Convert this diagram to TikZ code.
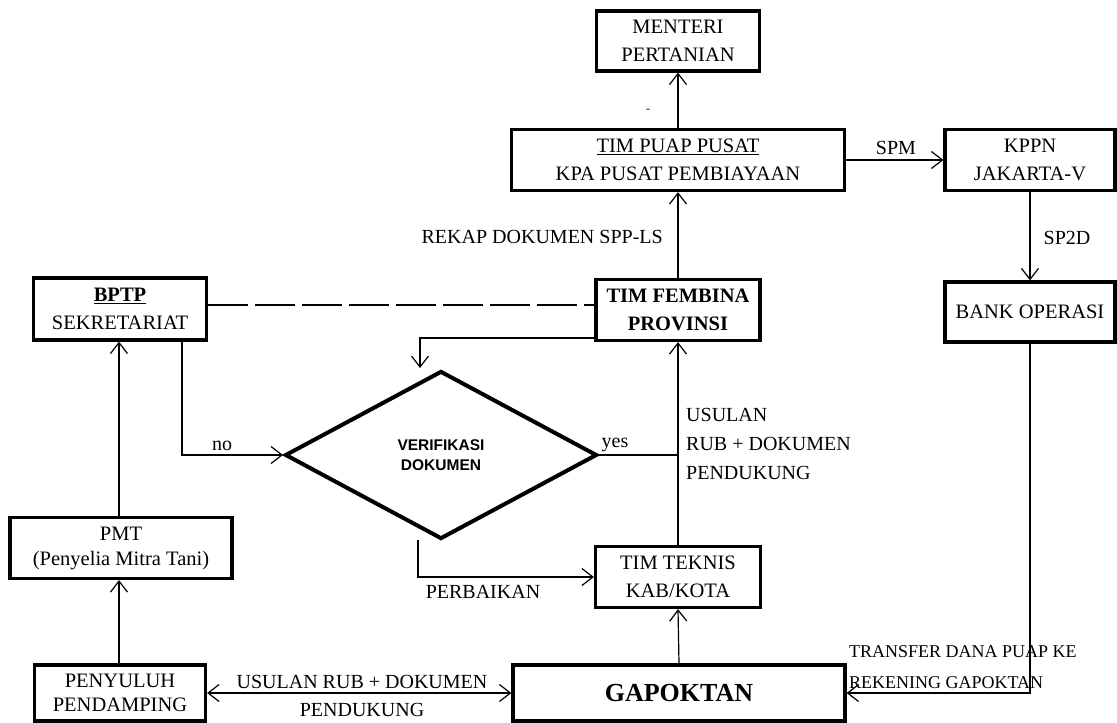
\documentclass[tikz,border=0pt]{standalone}
\usepackage{fontspec}
\setmainfont{Liberation Serif}
\newfontfamily\diafont{Liberation Sans}
\usetikzlibrary{arrows.meta,shapes.geometric}

\begin{document}
\begin{tikzpicture}[
    x=1pt, y=-1pt,
    box/.style={rectangle, draw=black, line width=3.2pt, inner sep=0pt, align=center, font=\fontsize{20.5}{28}\selectfont},
    decision/.style={diamond, draw=black, line width=4pt, inner sep=0pt, align=center, font=\diafont\bfseries\fontsize{15.5}{20}\selectfont},
    flow/.style={line width=1.2pt, -{Straight Barb[length=11pt,width=17pt]}},
    link/.style={line width=1.2pt},
    twoway/.style={line width=1.2pt, {Straight Barb[length=11pt,width=17pt]}-{Straight Barb[length=11pt,width=17pt]}},
    lbl/.style={font=\fontsize{20}{29}\selectfont, inner sep=0pt},
]
    \useasboundingbox (0,0) rectangle (1117,723);

    % Pusat
    \node[box, minimum width=163pt, minimum height=60pt] (menteri) at (678,41) {MENTERI\\PERTANIAN};
    \node[box, minimum width=333pt, minimum height=61pt] (puap) at (678,160) {\underline{TIM PUAP PUSAT}\\KPA PUSAT PEMBIAYAAN};
    \node[box, minimum width=170pt, minimum height=61pt] (kppn) at (1030,160) {KPPN\\JAKARTA-V};
    \node[box, minimum width=170pt, minimum height=60pt] (bank) at (1030,312) {BANK OPERASI};

    % Provinsi
    \node[box, minimum width=164pt, minimum height=61pt, font=\bfseries\fontsize{20.5}{28}\selectfont] (fembina) at (678,310) {TIM FEMBINA\\PROVINSI};
    \node[box, minimum width=173pt, minimum height=62pt] (bptp) at (120,309) {\underline{\textbf{BPTP}}\\SEKRETARIAT};
    \node[decision, minimum width=312pt, minimum height=168pt] (verif) at (441,455) {VERIFIKASI\\DOKUMEN};

    % Kabupaten dan kelompok
    \node[box, minimum width=222pt, minimum height=61pt, font=\fontsize{20.5}{25}\selectfont] (pmt) at (121,548) {PMT\\(Penyelia Mitra Tani)};
    \node[box, minimum width=165pt, minimum height=61pt] (teknis) at (678,577) {TIM TEKNIS\\KAB/KOTA};
    \node[box, minimum width=171pt, minimum height=56pt, font=\fontsize{20.5}{24}\selectfont] (penyuluh) at (120,693) {PENYULUH\\PENDAMPING};
    \node[box, minimum width=332pt, minimum height=56pt, font=\bfseries\fontsize{26}{30}\selectfont] (gapoktan) at (679,693) {GAPOKTAN};

    % Bend points
    \coordinate (noturn) at (182,455);
    \coordinate (backturn) at (420,338);
    \coordinate (backend) at (420,368);
    \coordinate (fixstart) at (418,540);

    % Relationships
    \draw[flow] (puap.north) -- (menteri.south);
    \node[lbl, font=\fontsize{12}{12}\selectfont] (stray) at (648,111) {-};
    \draw[flow] (puap.east) -- (kppn.west);
    \draw[flow] (kppn.south) -- (bank.north);
    \draw[flow] (bank.south) |- (gapoktan.east);
    \draw[flow] (fembina.north) -- (puap.south);
    \draw[link, dash pattern=on 40pt off 7pt] (bptp.east |- 0,305) -- (fembina.west |- 0,305);
    \draw[flow] (fembina.west |- backturn) -- (backturn) -- (backend);
    \draw[flow] (bptp.south -| noturn) |- (verif.west);
    \draw[link] (verif.east) -- (verif.east -| teknis.north);
    \draw[flow] (teknis.north) -- (fembina.south);
    \draw[flow] (fixstart) |- (teknis.west);
    \draw[flow] (gapoktan.north) -- (teknis.south);
    \draw[flow] (pmt.north -| 119,0) -- (bptp.south -| 119,0);
    \draw[flow] (penyuluh.north -| 119,0) -- (pmt.south -| 119,0);
    \draw[twoway] (penyuluh.east) -- (gapoktan.west);

    % Labels
    \node[lbl] (spm) at (896,148) {SPM};
    \node[lbl] (sp2d) at (1067,238) {SP2D};
    \node[lbl, anchor=east] (rekap) at (663,237) {REKAP DOKUMEN SPP-LS};
    \node[lbl] (no) at (222,446) {no};
    \node[lbl] (yes) at (615,445) {yes};
    \node[lbl, anchor=west, align=left] (usulan) at (686,444) {USULAN\\RUB + DOKUMEN\\PENDUKUNG};
    \node[lbl] (perbaikan) at (483,592) {PERBAIKAN};
    \node[lbl, anchor=west, align=left, font=\fontsize{18}{31}\selectfont] (transfer) at (849,667) {TRANSFER DANA PUAP KE\\REKENING GAPOKTAN};
    \node[lbl] (usulanrub) at (362,682) {USULAN RUB + DOKUMEN};
    \node[lbl] (pendukung) at (362,710) {PENDUKUNG};
\end{tikzpicture}
\end{document}
